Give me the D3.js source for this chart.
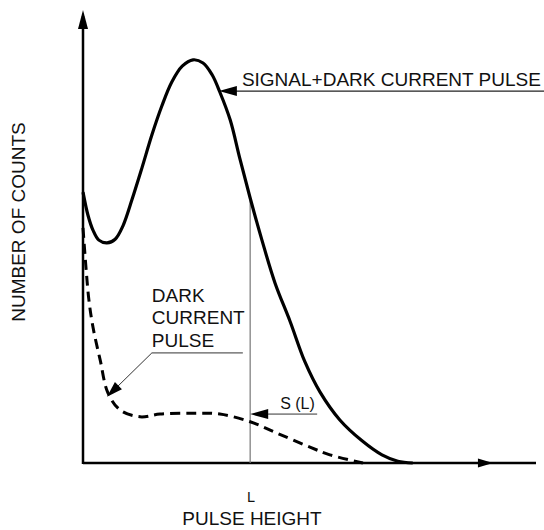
<!DOCTYPE html>
<html>
<head>
<meta charset="utf-8">
<script src="https://cdn.jsdelivr.net/npm/d3@7"></script>
<style>
  html, body { margin: 0; padding: 0; background: #fff; }
  svg { display: block; }
  text { font-family: "Liberation Sans", Arial, Helvetica, sans-serif; fill: #111; }
</style>
</head>
<body>
<svg id="chart" width="544" height="530"></svg>
<script>
// ---- data (pulse height in arbitrary units 0..100, counts in arbitrary units 0..100) ----
const signalX = [0, 1.1, 2.2, 3.5, 5.3, 7.1, 8.8, 10.8, 13.0, 15.2, 17.4, 19.6, 21.9, 24.3, 26.5, 28.5, 30.2, 32.5, 34.6, 36.9, 39.5, 42.4, 45.7, 49.0, 52.3, 56.7, 61.6, 66.0, 69.5, 72.8];
const signalY = [59.8, 54.7, 51.4, 49.2, 48.6, 49.4, 52.3, 58.1, 65.1, 72.4, 78.8, 84.1, 87.6, 89.0, 88.3, 85.7, 81.9, 75.7, 67.3, 58.5, 49.2, 39.7, 31.3, 22.3, 15.7, 9.5, 4.9, 1.8, 0.4, 0];
const darkX = [0, 0.7, 1.3, 2.2, 3.8, 5.5, 8.2, 12.6, 17.0, 24.3, 30.2, 36.9, 42.8, 50.1, 54.5, 61.8];
const darkY = [51.9, 42.6, 36.0, 30.0, 22.7, 15.5, 11.7, 10.2, 10.8, 11.0, 10.8, 9.1, 6.6, 3.5, 1.8, 0];
const levelL = 36.9;                // discrimination level L
const labels = {
  yTitle: "NUMBER OF COUNTS",
  xTitle: "PULSE HEIGHT",
  L: "L",
  signal: "SIGNAL+DARK CURRENT PULSE",
  dark: ["DARK", "CURRENT", "PULSE"],
  sL: "S (L)"
};
// annotation anchors (data units)
const signalArrowAt = [30.0, 82.1];
const darkArrowAt = [5.3, 14.6];
const darkLabelAt = [15.2, 24.3];
const sLArrowY = 10.8;

// ---- scales ----
const x = d3.scaleLinear().domain([0, 100]).range([83, 536]);
const y = d3.scaleLinear().domain([0, 100]).range([463, 10]);

const svg = d3.select("#chart");

function arrowHead(tx, ty, angle, len, hw) {
  const bx = tx - Math.cos(angle) * len, by = ty - Math.sin(angle) * len;
  const px = -Math.sin(angle) * hw, py = Math.cos(angle) * hw;
  svg.append("path")
    .attr("d", `M${tx},${ty}L${bx + px},${by + py}L${bx - px},${by - py}Z`)
    .attr("fill", "#000");
}

// ---- axes ----
svg.append("line").attr("x1", x(0)).attr("x2", x(0)).attr("y1", y(0) + 1).attr("y2", y(100) + 6)
  .attr("stroke", "#000").attr("stroke-width", 2.5);
arrowHead(x(0), y(100), -Math.PI / 2, 19, 5);
svg.append("line").attr("x1", x(0)).attr("x2", x(100)).attr("y1", y(0)).attr("y2", y(0))
  .attr("stroke", "#000").attr("stroke-width", 2.5);
arrowHead(x(90.5), y(0), 0, 15, 4.5);

// ---- level L vertical line ----
const iL = signalX.indexOf(levelL);
svg.append("line").attr("x1", x(levelL)).attr("x2", x(levelL))
  .attr("y1", y(0)).attr("y2", y(signalY[iL]))
  .attr("stroke", "#777").attr("stroke-width", 1.2);

// ---- curves ----
const line = d3.line().x(d => x(d[0])).y(d => y(d[1])).curve(d3.curveCatmullRom.alpha(0.5));
svg.append("path").datum(d3.zip(darkX, darkY)).attr("d", line)
  .attr("fill", "none").attr("stroke", "#000").attr("stroke-width", 3)
  .attr("stroke-dasharray", "10,6");
svg.append("path").datum(d3.zip(signalX, signalY)).attr("d", line)
  .attr("fill", "none").attr("stroke", "#000").attr("stroke-width", 3.2);

// ---- signal annotation ----
const sx = x(signalArrowAt[0]), sy = y(signalArrowAt[1]);
svg.append("line").attr("x1", sx + 10).attr("x2", 544).attr("y1", sy).attr("y2", sy)
  .attr("stroke", "#222").attr("stroke-width", 1.3);
arrowHead(sx, sy, Math.PI, 18, 5);
svg.append("text").attr("x", sx + 23).attr("y", sy - 5).attr("font-size", 19).text(labels.signal);

// ---- dark current annotation ----
const dlx = x(darkLabelAt[0]), dly = y(darkLabelAt[1]);
labels.dark.forEach((t, i) => {
  svg.append("text").attr("x", dlx).attr("y", dly - 51 + i * 22.5).attr("font-size", 19).text(t);
});
svg.append("line").attr("x1", dlx).attr("x2", dlx + 91).attr("y1", dly).attr("y2", dly)
  .attr("stroke", "#333").attr("stroke-width", 1);
const dax = x(darkArrowAt[0]), day = y(darkArrowAt[1]);
const ang = Math.atan2(day - dly, dax - dlx);
svg.append("line").attr("x1", dlx).attr("y1", dly)
  .attr("x2", dax - Math.cos(ang) * 8).attr("y2", day - Math.sin(ang) * 8)
  .attr("stroke", "#333").attr("stroke-width", 1);
arrowHead(dax, day, ang, 16, 5);

// ---- S(L) annotation ----
const slx = x(levelL), sly = y(sLArrowY);
svg.append("line").attr("x1", slx + 8).attr("x2", slx + 67).attr("y1", sly).attr("y2", sly)
  .attr("stroke", "#333").attr("stroke-width", 1);
arrowHead(slx, sly, Math.PI, 18, 5);
svg.append("text").attr("x", slx + 30).attr("y", sly - 5).attr("font-size", 16).text(labels.sL);

// ---- axis labels ----
svg.append("text").attr("x", x(levelL) + 1).attr("y", 502).attr("text-anchor", "middle")
  .attr("font-size", 14.5).text(labels.L);
svg.append("text").attr("x", 252).attr("y", 525).attr("text-anchor", "middle")
  .attr("font-size", 19).text(labels.xTitle);
svg.append("text").attr("transform", "translate(25,222) rotate(-90)").attr("text-anchor", "middle")
  .attr("font-size", 19).text(labels.yTitle);
</script>
</body>
</html>
